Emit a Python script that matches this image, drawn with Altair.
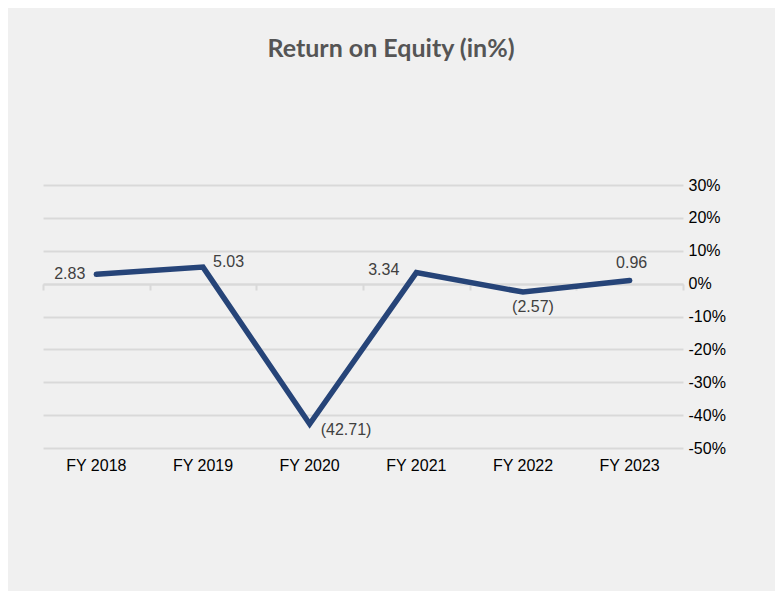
import altair as alt
import pandas as pd

years = ["FY 2018", "FY 2019", "FY 2020", "FY 2021", "FY 2022", "FY 2023"]
roe = [2.83, 5.03, -42.71, 3.34, -2.57, 0.96]
labels = ["2.83", "5.03", "(42.71)", "3.34", "(2.57)", "0.96"]
y_ticks = [30, 20, 10, 0, -10, -20, -30, -40, -50]

df = pd.DataFrame({"year": years, "roe": [v / 100 for v in roe], "label": labels})

FONT = "Arial, Liberation Sans"
GRID = "#d9d9d9"
LINE = "#264478"

xscale = alt.Scale(domain=years, paddingInner=0, paddingOuter=0)
yscale = alt.Scale(domain=[-0.5, 0.3], nice=False, zero=False)

x_main = alt.X("year:N", sort=years, scale=xscale, title=None,
               axis=alt.Axis(orient="bottom", labelAngle=0, labelFontSize=16,
                             labelFont=FONT, labelColor="#000000", labelPadding=9,
                             domain=False, ticks=False, grid=False))
y_axis = alt.Axis(orient="right", values=[v / 100 for v in y_ticks],
                  labelExpr="round(datum.value * 100) + '%'",
                  labelFontSize=16, labelFont=FONT,
                  labelColor="#000000", labelPadding=5,
                  domain=False, ticks=False, grid=True,
                  gridColor=GRID, gridWidth=2)
y_main = alt.Y("roe:Q", scale=yscale, title=None, axis=y_axis)

base = alt.Chart(df)

line = base.mark_line(color=LINE, strokeWidth=5.5, strokeCap="round",
                      strokeJoin="miter").encode(x=x_main, y=y_main)

x_none = alt.X("year:N", sort=years, scale=xscale, axis=None)

def lab(year, align, dx, dy):
    return base.transform_filter(alt.datum.year == year).mark_text(
        font=FONT, fontSize=16, color="#404040", align=align,
        baseline="middle", dx=dx, dy=dy
    ).encode(x=x_none, y=y_main, text="label:N")

texts = [
    lab("FY 2018", "right", -11, 0),
    lab("FY 2019", "left", 10, -5),
    lab("FY 2020", "left", 11, 6),
    lab("FY 2021", "right", -17, -3),
    lab("FY 2022", "center", 10, 15),
    lab("FY 2023", "center", 2, -17),
]

zero_axis = base.mark_point(opacity=0).encode(
    x=alt.X("year:N", sort=years, scale=xscale, title=None,
            axis=alt.Axis(orient="bottom", offset=-164, labels=False,
                          domain=True, domainColor=GRID, domainWidth=2,
                          ticks=True, tickColor=GRID, tickWidth=2, tickSize=6,
                          tickBand="extent", grid=False)),
    y=y_main,
)

chart = alt.layer(line, zero_axis, *texts).resolve_axis(x="independent").properties(
    width=640, height=263,
    padding={"left": 35, "top": 177, "right": 92, "bottom": 143},
    autosize=alt.AutoSizeParams(type="none"),
    background="#f0f0f0",
    title=alt.TitleParams("Return on Equity (in%)", font="Lato", fontSize=25,
                          fontWeight="bold", color="#555555", anchor="middle",
                          offset=115, dx=28),
).configure_view(stroke=None)

chart.save("out.html", embed_options={"renderer": "svg", "actions": False})
